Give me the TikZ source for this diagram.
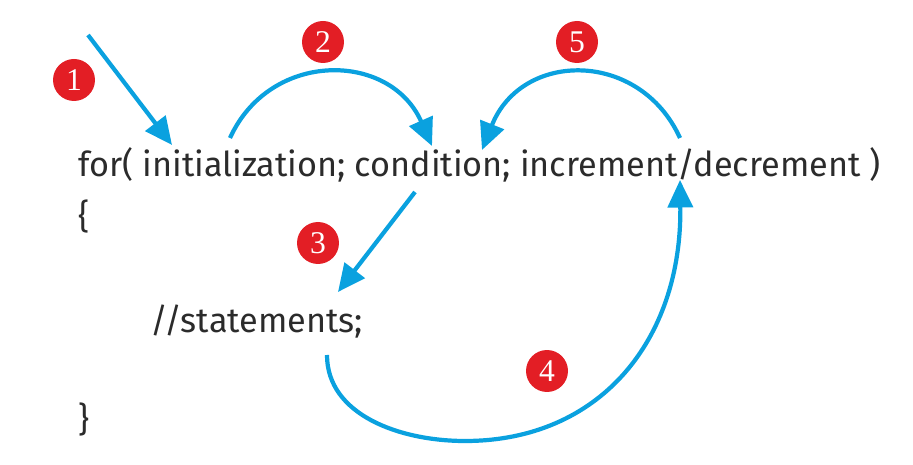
\documentclass[tikz,border=0pt]{standalone}
\usepackage{fontspec}
\setmainfont{Fira Sans}
\newfontfamily\badgefont{Liberation Serif}
\usetikzlibrary{arrows.meta}
\definecolor{flowblue}{HTML}{0AA1DF}
\definecolor{badgered}{HTML}{E31E25}
\definecolor{codegray}{HTML}{2B2B2B}

\begin{document}
\begin{tikzpicture}[x=0.02cm,y=-0.02cm,
		code/.style={anchor=base west,inner sep=0pt,text=codegray,font=\fontsize{19.5}{23}\selectfont},
		badge/.style={circle,fill=badgered,text=white,minimum size=0.84cm,inner sep=0pt,font=\badgefont\fontsize{18}{18}\selectfont},
		flow/.style={flowblue,line width=2.4pt,-{Triangle[length=0.55cm,width=0.5cm]}}]
			
			\useasboundingbox (0,0) rectangle (913,465);
			
			% code lines
			\node[code] (forline) at (78,177) {for( initialization; condition; increment/decrement )};
			\node[code] (open) at (78,229) {\{};
			\node[code] (stmt) at (150,333) {//statements;};
			\node[code] (close) at (78,432) {\}};
			
			% numbered steps
			\node[badge] (b1) at (74,80) {1};
			\node[badge] (b2) at (323,42) {2};
			\node[badge] (b3) at (318,243) {3};
			\node[badge] (b4) at (547,371) {4};
			\node[badge] (b5) at (577,42) {5};
			
			% arrow ends
			\coordinate (start) at (88,35);
			\coordinate (init) at (172,145);
			\coordinate (initout) at (230,138);
			\coordinate (cond) at (432,146);
			\coordinate (condout) at (415,192);
			\coordinate (body) at (338,292);
			\coordinate (bodyout) at (327,355);
			\coordinate (bottom) at (465,441);
			\coordinate (incr) at (680,180);
			\coordinate (incrout) at (680,138);
			\coordinate (cond2) at (482,150);
			
			\draw[flow] (start) -- (init);
			\draw[flow] (initout) .. controls +(40,-88) and +(-42,-95) .. (cond);
			\draw[flow] (condout) -- (body);
			\draw[flow] (bodyout) .. controls +(0,60) and +(-65,0) .. (bottom) .. controls +(135,0) and +(2,160) .. (incr);
			\draw[flow] (incrout) .. controls +(-40,-88) and +(40,-100) .. (cond2);
			
		\end{tikzpicture}
\end{document}
